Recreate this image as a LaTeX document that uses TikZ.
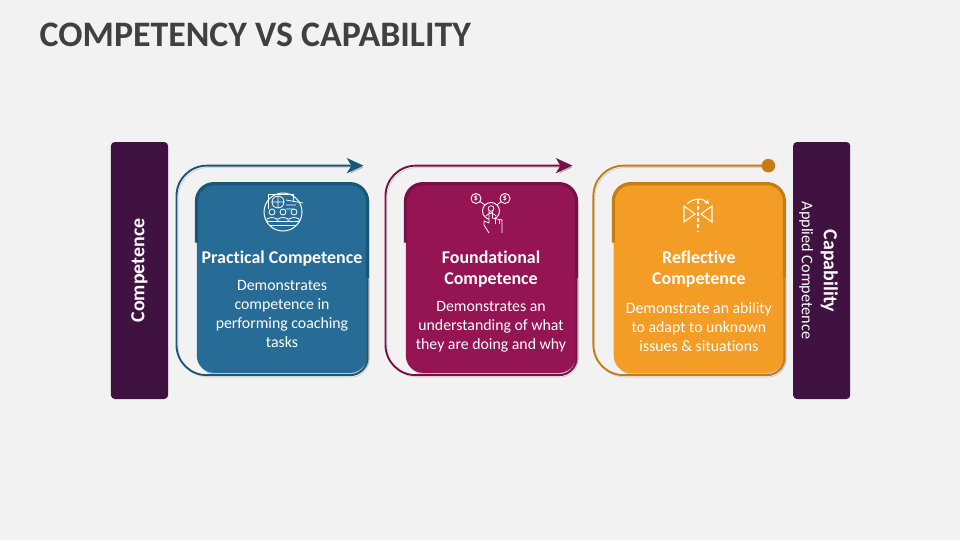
\documentclass[tikz,border=0pt]{standalone}
\usepackage{fontspec}
\setmainfont[Ligatures=NoCommon]{Carlito}
\usetikzlibrary{arrows.meta,shadows,calc}
\definecolor{bgcol}{HTML}{F2F2F2}
\definecolor{barcol}{HTML}{3F1242}
\definecolor{praccol}{HTML}{266C96}
\definecolor{pracdark}{HTML}{1C5676}
\definecolor{foundcol}{HTML}{941454}
\definecolor{founddark}{HTML}{791045}
\definecolor{reflcol}{HTML}{F39C26}
\definecolor{refldark}{HTML}{C67C14}
\tikzset{
bar/.style = {fill=barcol, rounded corners=1mm, minimum width=15.1mm, minimum height=68mm, inner sep=0pt},
card/.style = {rounded corners=4.6mm, minimum width=45.1mm, minimum height=50mm, inner sep=0pt,
               drop shadow={opacity=.4, shadow xshift=.6mm, shadow yshift=-.6mm}},
cardtitle/.style = {text=white, font=\fontsize{13.5}{15.75}\selectfont\bfseries, align=center},
cardtext/.style = {text=white, font=\fontsize{11.9}{14.25}\selectfont, align=center},
outline/.style = {line width=.5mm, rounded corners=8mm,
                  preaction={draw=black, opacity=.18, transform canvas={shift={(.4mm,-.5mm)}}}},
topedge/.style = {line width=.85mm, rounded corners=4.6mm},
icon/.style = {draw=white, line width=.6pt, fill=none},
}
\begin{document}
\begin{tikzpicture}[x=.26458mm, y=-.26458mm, >={Stealth[length=4.4mm, width=4mm, inset=1.2mm]}]
    \useasboundingbox[fill=bgcol] (0,0) rectangle (960,540);

    \node [text=black!75, font=\fontsize{27}{30}\selectfont\bfseries, anchor=west] (title) at (35,34.5) {COMPETENCY VS CAPABILITY};

    \node [bar, name=comp] (comp) at (139.5,270.5) {};
    \node [bar, name=capa, right of=comp, node distance=180.5mm] (capa) {};
    \node [text=white, font=\fontsize{15}{16}\selectfont\bfseries, rotate=90] (complab) at (comp.center) {Competence};
    \node [text=white, font=\fontsize{15}{16}\selectfont\bfseries, rotate=-90] (capalab) at ($(capa.center)+(7.5,0.5)$) {Capability};
    \node [text=white, font=\fontsize{12.2}{14}\selectfont, rotate=-90] (applab) at ($(capa.center)+(-15.5,0)$) {Applied Competence};

    % cards
    \node [card, fill=praccol, name=prac] (prac) at (282,278.4) {};
    \node [card, fill=foundcol, name=found, right of=prac, node distance=55.3mm] (found) {};
    \node [card, fill=reflcol, name=refl, right of=found, node distance=55mm] (refl) {};

    % practical
    \coordinate (pracnw) at ($(prac.north west)+(-20,-18)$);
    \coordinate (pracsw) at ($(prac.south west)+(-20,2)$);
    \coordinate (pracend) at ($(prac.north east)+(-4,-18)$);
    \coordinate (pracedge) at ($(prac.north west)+(0,59)$);
    \draw [outline, draw=pracdark, ->] (prac.east) [rounded corners=4.6mm] |- (pracsw -| prac.south) [rounded corners=8mm] -- (pracsw) -- (pracnw) -- (pracend);
    \draw [topedge, draw=pracdark] (pracedge) |- (prac.north east) -- (prac.east);
    \node [cardtitle, below of=prac, node distance=-5.3mm] (practitle) {Practical Competence};
    \node [cardtext, below of=practitle, node distance=14.7mm] (practext) {Demonstrates\\competence in\\performing coaching\\tasks};

    % foundational
    \coordinate (foundnw) at ($(found.north west)+(-20,-18)$);
    \coordinate (foundsw) at ($(found.south west)+(-20,2)$);
    \coordinate (foundend) at ($(found.north east)+(-4,-18)$);
    \coordinate (foundedge) at ($(found.north west)+(0,59)$);
    \draw [outline, draw=founddark, ->] (found.east) [rounded corners=4.6mm] |- (foundsw -| found.south) [rounded corners=8mm] -- (foundsw) -- (foundnw) -- (foundend);
    \draw [topedge, draw=founddark] (foundedge) |- (found.north east) -- (found.east);
    \node [cardtitle, below of=found, node distance=-2.5mm] (foundtitle) {Foundational\\Competence};
    \node [cardtext, below of=foundtitle, node distance=15.4mm] (foundtext) {Demonstrates an\\understanding of what\\they are doing and why};

    % reflective
    \coordinate (reflnw) at ($(refl.north west)+(-20,-18)$);
    \coordinate (reflsw) at ($(refl.south west)+(-20,2)$);
    \coordinate (reflend) at ($(refl.north east)+(-16,-18)$);
    \coordinate (refledge) at ($(refl.north west)+(0,59)$);
    \draw [outline, draw=refldark] (refl.east) [rounded corners=4.6mm] |- (reflsw -| refl.south) [rounded corners=8mm] -- (reflsw) -- (reflnw) -- (reflend);
    \fill [refldark] (reflend) circle (1.8mm);
    \draw [topedge, draw=refldark] (refledge) |- (refl.north east) -- (refl.east);
    \node [cardtitle, below of=refl, node distance=-2.5mm] (refltitle) {Reflective\\Competence};
    \node [cardtext, below of=refltitle, node distance=15.4mm] (refltext) {Demonstrate an ability\\to adapt to unknown\\issues \& situations};

    % icon: group at a board
    \begin{scope}[shift={(283,212)}]
      \draw [icon, line width=.75pt] (0,0) circle (19);
      \draw [icon] (-15,-3) -- (-15,-18) -- (10,-18) -- (10,-11);
      \draw [icon] (-5,-10) circle (6) (-5,-16) -- (-5,-4) (-11,-10) -- (1,-10);
      \draw [icon] (3,-12) -- (20,-9) (3,-7) -- (13,-7) (3,-3) -- (10,-3);
      \foreach \px in {-11,0,11} {
        \draw [icon, fill=praccol] (\px,0) circle (3);
        \draw [icon] (\px-5,9) -- (\px-5,7) to[bend left=30] (\px+5,7) -- (\px+5,9);
      }
      \draw [icon] (-17,9) -- (17,9) (-13,13) -- (13,13);
    \end{scope}

    % icon: hand on money network
    \begin{scope}[shift={(491,211)}]
      \draw [icon, line width=.7pt] (0,0) circle (8.5) (-15,-12.5) circle (5) (14,-12.5) circle (5);
      \draw [icon] (-11,-9.5) -- (-6,-6) (10,-9.5) -- (6,-6);
      \node [text=white, font=\fontsize{6}{6}\selectfont\bfseries, name=doll] (doll) at (-15,-12.5) {\$};
      \node [text=white, font=\fontsize{6}{6}\selectfont\bfseries, name=dolr] (dolr) at (14,-12.5) {\$};
      \draw [icon] (0,-2.5) circle (2.8) (-5,5) to[bend left=60] (5,5);
      \draw [icon, fill=foundcol] (-2,22) -- (-7,14) -- (-7,10) -- (-2,12) -- (-2,1) arc (180:0:1.7) -- (1.4,7) -- (11,9) -- (11,22);
      \draw [icon] (4.5,8) -- (4.5,13) (8,8.5) -- (8,13);
    \end{scope}

    % icon: mirrored triangles
    \begin{scope}[shift={(698,214)}]
      \draw [icon, line width=.8pt] (-14,-8) -- (-3,0) -- (-14,8) -- cycle (14,-8) -- (3,0) -- (14,8) -- cycle;
      \draw [icon, line width=.8pt, dash pattern=on 3pt off 1.6pt] (0,-14) -- (0,17);
      \draw [icon, line width=.8pt, -{Stealth[length=1.2mm,width=1.4mm]}] (-11,-10) to[bend left=45] (11,-10);
    \end{scope}
\end{tikzpicture}
\end{document}
